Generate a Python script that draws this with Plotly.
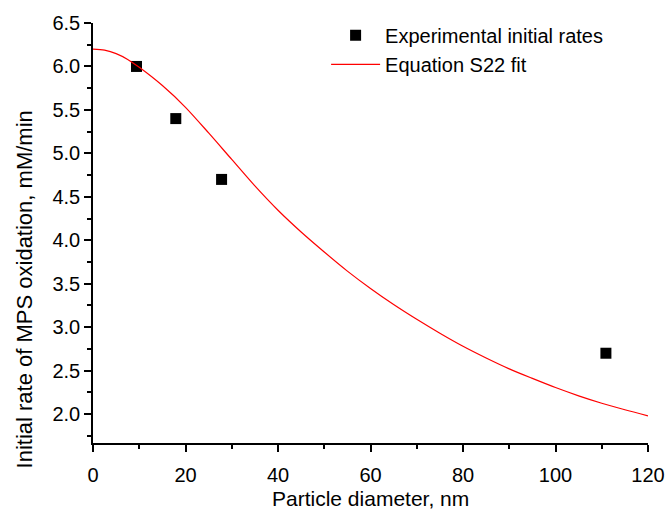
import plotly.graph_objects as go

# Experimental data
exp_diameter = [9.4, 17.9, 27.8, 110.9]
exp_rate = [6.0, 5.4, 4.7, 2.7]

# Fit curve
fit_diameter = [0, 2.5, 5, 7.5, 10, 15, 20, 25, 30, 35, 40, 45, 50, 55, 60, 65, 70, 75, 80,
                85, 90, 95, 100, 105, 110, 115, 120]
fit_rate = [6.200, 6.187, 6.148, 6.081, 5.990, 5.780, 5.530, 5.235, 4.930, 4.625, 4.345, 4.095,
            3.865, 3.645, 3.445, 3.260, 3.090, 2.930, 2.780, 2.645, 2.520, 2.410,
            2.305, 2.210, 2.125, 2.050, 1.980]

font_family = "Liberation Sans, Arial, sans-serif"

fig = go.Figure()
fig.add_trace(go.Scatter(
    x=exp_diameter, y=exp_rate, mode="markers",
    name="Experimental initial rates",
    marker=dict(symbol="square", size=11, color="black"),
))
fig.add_trace(go.Scatter(
    x=fit_diameter, y=fit_rate, mode="lines",
    name="Equation S22 fit",
    line=dict(color="red", width=1.2, shape="spline", smoothing=0.8),
))

axis_common = dict(
    showline=True, linecolor="black", linewidth=1.5,
    ticks="outside", ticklen=7, tickwidth=1.5, tickcolor="black",
    showgrid=False, zeroline=False, mirror=False, automargin=False,
    tickfont=dict(family=font_family, size=20, color="black"),
)

fig.update_xaxes(
    range=[0, 120], tick0=0, dtick=20, ticklabelstandoff=6,
    minor=dict(ticks="outside", ticklen=4, dtick=10, tickcolor="black", tickwidth=1.5),
    **axis_common,
)
fig.update_yaxes(
    range=[1.667, 6.5], tick0=2.0, dtick=0.5, tickformat=".1f",
    minor=dict(ticks="outside", ticklen=4, dtick=0.25, tickcolor="black", tickwidth=1.5),
    **axis_common,
)

fig.add_annotation(
    text="Particle diameter, nm", xref="paper", yref="paper",
    x=0.5, y=-0.132, xanchor="center", yanchor="middle", showarrow=False,
    font=dict(family=font_family, size=21, color="black"),
)
fig.add_annotation(
    text="Initial rate of MPS oxidation, mM/min", xref="paper", yref="paper",
    x=-0.124, y=0.366, xanchor="center", yanchor="middle", showarrow=False,
    textangle=-90,
    font=dict(family=font_family, size=22, color="black"),
)

fig.update_layout(
    width=667, height=512,
    margin=dict(l=93, r=19, t=23, b=69),
    plot_bgcolor="white", paper_bgcolor="white",
    showlegend=True,
    legend=dict(
        x=0.420, y=1.017, xanchor="left", yanchor="top",
        font=dict(family=font_family, size=20, color="black"),
        bgcolor="rgba(0,0,0,0)", tracegroupgap=0, itemwidth=49,
    ),
)

fig.write_html("out.html", config={"displayModeBar": False},
               post_script="document.body.style.margin='0';")
